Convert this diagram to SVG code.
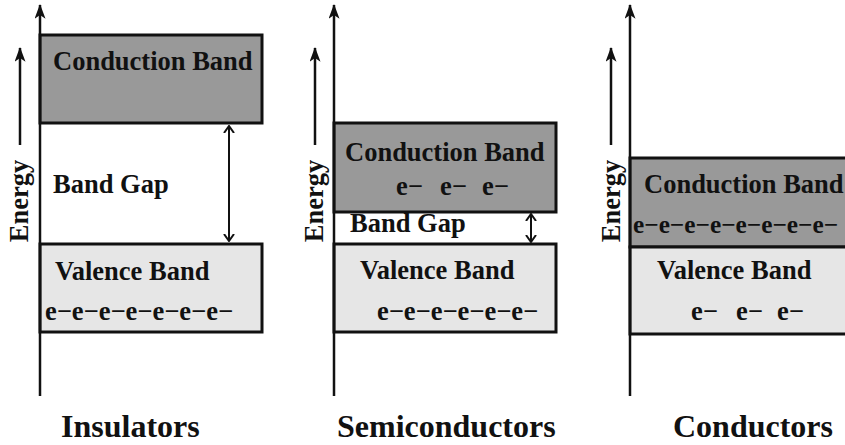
<svg xmlns="http://www.w3.org/2000/svg" width="845" height="445" viewBox="0 0 845 445">
<style>
.t{font-family:"Liberation Serif","Times New Roman",serif;font-weight:bold;font-size:26.5px;fill:#111}
.lbl{font-family:"Liberation Serif","Times New Roman",serif;font-weight:bold;font-size:32px;fill:#111}
.cb{fill:#999999;stroke:#111;stroke-width:3}
.vb{fill:#e6e6e6;stroke:#111;stroke-width:3}
.ax{stroke:#111;stroke-width:2.5;fill:none}
.dbl{stroke:#111;stroke-width:2;fill:none}
</style>
<defs>
<marker id="tri" viewBox="0 0 16 12" refX="15" refY="6" markerWidth="16" markerHeight="11" markerUnits="userSpaceOnUse" orient="auto">
<path d="M0,0 L16,6 L0,12 L4,6 Z" fill="#111"/>
</marker>
<marker id="chev" viewBox="0 0 8 12" refX="7" refY="6" markerWidth="8" markerHeight="12" markerUnits="userSpaceOnUse" orient="auto-start-reverse">
<path d="M0,1 L7,6 L0,11" fill="none" stroke="#111" stroke-width="2"/>
</marker>
</defs>
<rect width="845" height="445" fill="#ffffff"/>

<g id="insulator">
<rect id="ins-cb" class="cb" x="40" y="35" width="222" height="88"/>
<rect id="ins-vb" class="vb" x="40" y="244" width="222" height="88"/>
<text class="t" x="53" y="70">Conduction Band</text>
<text class="t" x="53" y="193">Band Gap</text>
<text class="t" x="55" y="280">Valence Band</text>
<text class="t" x="45" y="320">e−e−e−e−e−e−e−</text>
<text class="t" transform="translate(28,201) rotate(-90)" text-anchor="middle">Energy</text>
<text class="lbl" x="61" y="437">Insulators</text>
</g>

<g id="semiconductor">
<rect id="sem-cb" class="cb" x="334" y="123" width="222" height="89"/>
<rect id="sem-vb" class="vb" x="334" y="244" width="222" height="88"/>
<text class="t" x="345" y="161">Conduction Band</text>
<text class="t" x="396" y="195">e−</text>
<text class="t" x="440" y="195">e−</text>
<text class="t" x="482" y="195">e−</text>
<text class="t" x="350" y="232">Band Gap</text>
<text class="t" x="360" y="279">Valence Band</text>
<text class="t" x="377" y="320">e−e−e−e−e−e−</text>
<text class="t" transform="translate(323,201) rotate(-90)" text-anchor="middle">Energy</text>
<text class="lbl" x="337" y="437">Semiconductors</text>
</g>

<g id="conductor">
<rect id="con-cb" class="cb" x="630" y="158" width="230" height="89"/>
<rect id="con-vb" class="vb" x="630" y="247" width="230" height="87"/>
<text class="t" x="644" y="193">Conduction Band</text>
<text class="t" x="633" y="233" style="font-size:25.3px">e−e−e−e−e−e−e−e−</text>
<text class="t" x="657" y="279">Valence Band</text>
<text class="t" x="691" y="320">e−</text>
<text class="t" x="736" y="320">e−</text>
<text class="t" x="777" y="320">e−</text>
<text class="t" transform="translate(620,201) rotate(-90)" text-anchor="middle">Energy</text>
<text class="lbl" x="673" y="437">Conductors</text>
</g>

<g id="connectors">
<line class="ax" x1="40" y1="396" x2="40" y2="5" marker-end="url(#tri)"/>
<line class="ax" x1="20" y1="145" x2="20" y2="48" marker-end="url(#tri)"/>
<line class="ax" x1="334" y1="396" x2="334" y2="5" marker-end="url(#tri)"/>
<line class="ax" x1="315" y1="145" x2="315" y2="48" marker-end="url(#tri)"/>
<line class="ax" x1="630" y1="396" x2="630" y2="5" marker-end="url(#tri)"/>
<line class="ax" x1="611" y1="145" x2="611" y2="48" marker-end="url(#tri)"/>
<line class="dbl" x1="229" y1="126" x2="229" y2="241" marker-start="url(#chev)" marker-end="url(#chev)"/>
<line class="dbl" x1="531" y1="214" x2="531" y2="242" marker-start="url(#chev)" marker-end="url(#chev)"/>
</g>
</svg>
